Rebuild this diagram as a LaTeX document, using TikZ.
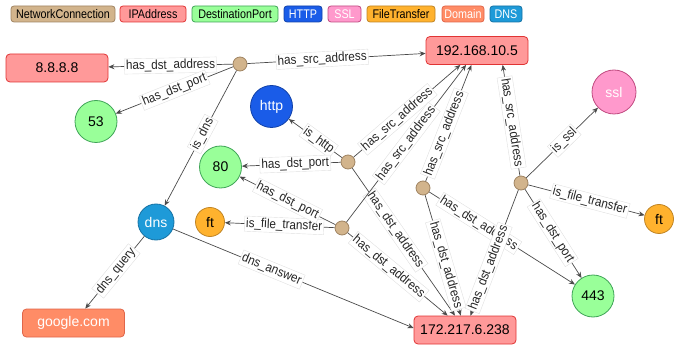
\documentclass[tikz,border=0pt]{standalone}
\usepackage{fontspec}
\setmainfont{Liberation Sans}
\newfontfamily\lblfont{Liberation Sans}[FakeStretch=0.9]
\newfontfamily\legfont{Liberation Sans}[FakeStretch=0.86]
\usetikzlibrary{arrows.meta,calc}
\definecolor{ncfill}{HTML}{D2B48C}
\definecolor{ncdraw}{HTML}{A08462}
\definecolor{ipfill}{HTML}{FF9999}
\definecolor{ipdraw}{HTML}{E03434}
\definecolor{portfill}{HTML}{99FF99}
\definecolor{portdraw}{HTML}{3FA457}
\definecolor{httpfill}{HTML}{1A5CE8}
\definecolor{httpdraw}{HTML}{1242A8}
\definecolor{sslfill}{HTML}{FF99CC}
\definecolor{ssldraw}{HTML}{C04A80}
\definecolor{ftfill}{HTML}{FFB22E}
\definecolor{ftdraw}{HTML}{C08424}
\definecolor{domfill}{HTML}{FF8C66}
\definecolor{domdraw}{HTML}{E0664A}
\definecolor{dnsfill}{HTML}{1E9AD8}
\definecolor{dnsdraw}{HTML}{1572A4}
\definecolor{edgecol}{HTML}{4A4A4A}
\begin{document}
\begin{tikzpicture}[x=1pt,y=-1pt,
  nodefont/.style={font=\fontsize{14}{16}\selectfont},
  nc/.style={circle, draw=ncdraw, fill=ncfill, minimum size=14pt, inner sep=0pt, line width=0.8pt},
  ipbox/.style={rectangle, rounded corners=4pt, draw=ipdraw, fill=ipfill, minimum width=102pt, minimum height=28pt, inner sep=0pt, line width=0.8pt, nodefont},
  dombox/.style={rectangle, rounded corners=4pt, draw=domdraw, fill=domfill, minimum width=102pt, minimum height=28pt, inner sep=0pt, line width=0.8pt, nodefont, text=white},
  port/.style={circle, draw=portdraw, fill=portfill, minimum size=42pt, inner sep=0pt, line width=0.8pt, nodefont},
  httpc/.style={circle, draw=httpdraw, fill=httpfill, minimum size=42pt, inner sep=0pt, line width=0.8pt, nodefont, text=white},
  sslc/.style={circle, draw=ssldraw, fill=sslfill, minimum size=44pt, inner sep=0pt, line width=0.8pt, nodefont, text=white},
  dnsc/.style={circle, draw=dnsdraw, fill=dnsfill, minimum size=36pt, inner sep=0pt, line width=0.8pt, nodefont, text=white},
  ftc/.style={circle, draw=ftdraw, fill=ftfill, minimum size=29pt, inner sep=0pt, line width=0.8pt, nodefont},
  edge/.style={draw=edgecol, line width=0.7pt, -{Stealth[length=6pt,width=5pt]}},
  lbl/.style={sloped, fill=white, draw=black!12, line width=0.4pt, inner sep=1.6pt, text=black!85, font={\lblfont\fontsize{13}{15}\selectfont}},
  leg/.style={rectangle, rounded corners=3pt, line width=0.8pt, minimum height=16pt, inner sep=0pt, font={\legfont\fontsize{12.5}{14}\selectfont}}
]
\useasboundingbox (0,0) rectangle (674,347);
% legend
\node[leg, draw=ncdraw, fill=ncfill, minimum width=104pt] (l1) at (63,14) {NetworkConnection};
\node[leg, draw=ipdraw, fill=ipfill, minimum width=66pt] (l2) at (153,14) {IPAddress};
\node[leg, draw=portdraw, fill=portfill, minimum width=86pt] (l3) at (235,14) {DestinationPort};
\node[leg, draw=httpdraw, fill=httpfill, text=white, minimum width=38pt] (l4) at (303,14) {HTTP};
\node[leg, draw=ssldraw, fill=sslfill, text=white, minimum width=33pt] (l5) at (344.5,14) {SSL};
\node[leg, draw=ftdraw, fill=ftfill, minimum width=68pt] (l6) at (401,14) {FileTransfer};
\node[leg, draw=domdraw, fill=domfill, text=white, minimum width=42pt] (l7) at (463,14) {Domain};
\node[leg, draw=dnsdraw, fill=dnsfill, text=white, minimum width=32pt] (l8) at (506,14) {DNS};
% nodes
\node[ipbox] (ip8) at (57,68) {8.8.8.8};
\node[ipbox] (ip192) at (477,50.5) {192.168.10.5};
\node[ipbox] (ip172) at (465,330) {172.217.6.238};
\node[dombox] (google) at (73.5,323) {google.com};
\node[port] (p53) at (96,121.5) {53};
\node[port] (p80) at (220.5,167) {80};
\node[port] (p443) at (593,296) {443};
\node[httpc] (http) at (271.5,106.5) {http};
\node[sslc] (ssl) at (614,92) {ssl};
\node[dnsc] (dns) at (156,222) {dns};
\node[ftc] (ftl) at (210,222) {ft};
\node[ftc] (ftr) at (659,219) {ft};
\node[nc] (nc1) at (240,64) {};
\node[nc] (nc2) at (348,162) {};
\node[nc] (nc3) at (423,188) {};
\node[nc] (nc4) at (521,183) {};
\node[nc] (nc5) at (342,228) {};
\coordinate (ip192r) at ($(ip192.south west)!0.75!(ip192.south east)$);
\coordinate (ip172w) at ([yshift=2pt]ip172.west);
% edges
\draw[edge] (nc1) -- node[lbl, pos=0.5] {has\_dst\_address} (ip8);
\draw[edge] (nc1) -- node[lbl, pos=0.42] {has\_src\_address} (ip192);
\draw[edge] (nc1) -- node[lbl, pos=0.5] {has\_dst\_port} (p53);
\draw[edge] (nc1) -- node[lbl, pos=0.47] {is\_dns} (dns);
\draw[edge] (dns) -- node[lbl, pos=0.48] {dns\_query} (google);
\draw[edge] (dns) -- node[lbl, pos=0.41] {dns\_answer} (ip172w);
\draw[edge] (nc2) -- node[lbl, pos=0.44] {is\_http} (http);
\draw[edge] (nc2) -- node[lbl, pos=0.46] {has\_dst\_port} (p80);
\draw[edge] (nc2) -- node[lbl, pos=0.41] {has\_src\_address} (ip192);
\draw[edge] (nc2) -- node[lbl, pos=0.42] {has\_dst\_address} (ip172);
\draw[edge] (nc5) -- node[lbl, pos=0.46] {is\_file\_transfer} (ftl);
\draw[edge] (nc5) -- node[lbl, pos=0.5] {has\_dst\_port} (p80);
\draw[edge] (nc5) -- node[lbl, pos=0.5] {has\_src\_address} (ip192);
\draw[edge] (nc5) -- node[lbl, pos=0.41] {has\_dst\_address} (ip172);
\draw[edge] (nc3) -- node[lbl, pos=0.41] {has\_src\_address} (ip192);
\draw[edge] (nc3) -- node[lbl, pos=0.58] {has\_dst\_address} (ip172);
\draw[edge] (nc3) -- node[lbl, pos=0.34] {has\_dst\_address} (p443);
\draw[edge] (nc4) -- node[lbl, pos=0.48] {has\_src\_address} (ip192r);
\draw[edge] (nc4) -- node[lbl, pos=0.53] {is\_ssl} (ssl);
\draw[edge] (nc4) -- node[lbl, pos=0.53] {is\_file\_transfer} (ftr);
\draw[edge] (nc4) -- node[lbl, pos=0.49] {has\_dst\_port} (p443);
\draw[edge] (nc4) -- node[lbl, pos=0.62] {has\_dst\_address} (ip172);
\end{tikzpicture}
\end{document}
